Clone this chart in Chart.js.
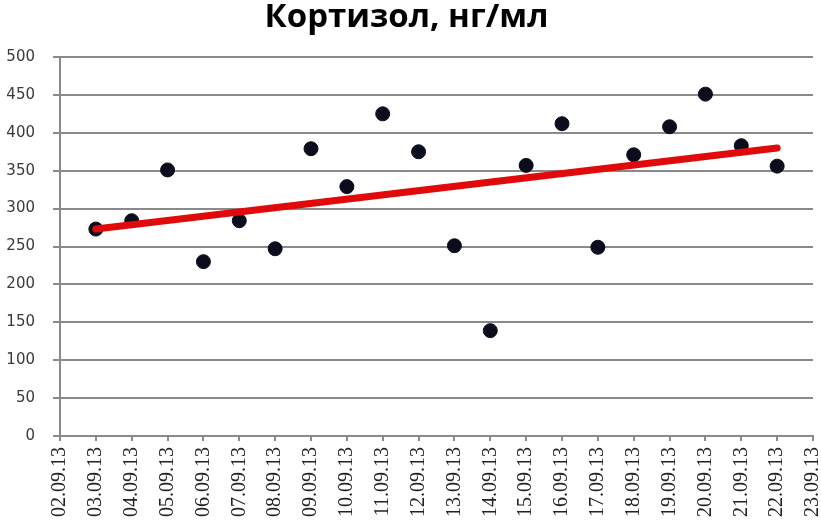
<!DOCTYPE html>
<html>
<head>
<meta charset="utf-8">
<script src="https://cdn.jsdelivr.net/npm/chart.js@4.4.0/dist/chart.umd.min.js"></script>
<style>
  html, body { margin: 0; padding: 0; background: #fff; }
  #wrap { width: 821px; height: 520px; }
</style>
</head>
<body>
<div id="wrap"><canvas id="chart" width="821" height="520"></canvas></div>
<script>
// dates on the x axis
const dates = ["02.09.13", "03.09.13", "04.09.13", "05.09.13", "06.09.13", "07.09.13",
  "08.09.13", "09.09.13", "10.09.13", "11.09.13", "12.09.13", "13.09.13", "14.09.13",
  "15.09.13", "16.09.13", "17.09.13", "18.09.13", "19.09.13", "20.09.13", "21.09.13",
  "22.09.13", "23.09.13"];
// cortisol values, ng/ml (no measurement on first and last date)
const cortisol = [null, 273, 284, 351, 230, 284, 247, 379, 329, 425, 375, 251, 139,
  357, 412, 249, 371, 408, 451, 383, 356, null];
// trend line end points
const trendDates = ["03.09.13", "22.09.13"];
const trendValues = [273, 380];
const yTicks = [0, 50, 100, 150, 200, 250, 300, 350, 400, 450, 500];

const trendData = trendDates.map((d, i) => ({ x: d, y: trendValues[i] }));

const ctx = document.getElementById("chart").getContext("2d");
const myChart = new Chart(ctx, {
  type: "line",
  data: {
    labels: dates,
    datasets: [
      {
        label: "trend",
        data: trendData,
        borderColor: "#e10a0a",
        borderWidth: 7,
        borderCapStyle: "round",
        pointRadius: 0,
        fill: false,
        order: 0,
      },
      {
        label: "cortisol",
        data: cortisol,
        showLine: false,
        pointRadius: 7,
        pointBackgroundColor: "#0b0c1c",
        pointBorderColor: "#0b0c1c",
        pointBorderWidth: 1,
        order: 1,
      },
    ],
  },
  options: {
    responsive: false,
    animation: false,
    layout: { padding: { left: 0, right: 8, top: 0, bottom: 0 } },
    plugins: {
      legend: { display: false },
      tooltip: { enabled: false },
      title: {
        display: true,
        text: "Кортизол, нг/мл",
        color: "#000",
        font: { family: "Open Sans", size: 33, weight: "bold", lineHeight: 1 },
        padding: { top: 1, bottom: 23 },
      },
    },
    scales: {
      x: {
        offset: false,
        grid: {
          drawOnChartArea: false,
          drawTicks: true,
          tickLength: 5,
          color: "#8a8a8a",
          lineWidth: 2,
        },
        border: { color: "#8a8a8a", width: 2 },
        ticks: {
          autoSkip: false,
          minRotation: 90,
          maxRotation: 90,
          padding: 6,
          color: "#222",
          font: { family: "Liberation Serif", size: 20 },
        },
        afterFit: (scale) => {
          scale.height = 84;
          scale.paddingLeft = 0;
          scale.paddingRight = 0;
        },
      },
      y: {
        min: 0,
        max: 500,
        afterBuildTicks: (scale) => { scale.ticks = yTicks.map((v) => ({ value: v })); },
        grid: {
          color: "#8a8a8a",
          lineWidth: 2,
          tickLength: 7,
        },
        border: { color: "#8a8a8a", width: 2 },
        ticks: {
          padding: 18,
          color: "#3a3a3a",
          font: { family: "DejaVu Sans", size: 15 },
        },
        afterFit: (scale) => { scale.width = 60; },
      },
    },
  },
});
</script>
</body>
</html>
